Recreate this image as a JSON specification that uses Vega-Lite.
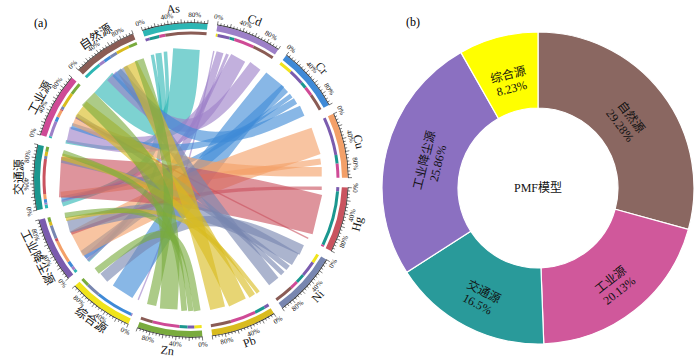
{
  "$schema": "https://vega.github.io/schema/vega-lite/v6.json",
  "padding": 0,
  "spacing": -3,
  "background": "white",
  "config": {
    "view": {"stroke": null},
    "font": "Liberation Serif, Noto Sans CJK SC",
    "title": {"fontWeight": "normal", "font": "Liberation Serif, Noto Sans CJK SC", "fontSize": 12, "color": "black"}
  },
  "datasets": {
    "nodes": [
      {"node": "As", "idx": 0}, {"node": "Cd", "idx": 1}, {"node": "Cr", "idx": 2},
      {"node": "Cu", "idx": 3}, {"node": "Hg", "idx": 4}, {"node": "Ni", "idx": 5},
      {"node": "Pb", "idx": 6}, {"node": "Zn", "idx": 7}, {"node": "综合源", "idx": 8},
      {"node": "工业降尘源", "idx": 9}, {"node": "交通源", "idx": 10}, {"node": "工业源", "idx": 11},
      {"node": "自然源", "idx": 12}
    ],
    "links": [
      {"el": "As", "src": "工业降尘源", "pe": 7, "ps": 5},
      {"el": "As", "src": "交通源", "pe": 16, "ps": 6},
      {"el": "As", "src": "工业源", "pe": 10, "ps": 3},
      {"el": "As", "src": "自然源", "pe": 67, "ps": 30},
      {"el": "Cd", "src": "综合源", "pe": 3, "ps": 2},
      {"el": "Cd", "src": "工业降尘源", "pe": 20, "ps": 6},
      {"el": "Cd", "src": "交通源", "pe": 8, "ps": 3},
      {"el": "Cd", "src": "工业源", "pe": 33, "ps": 25},
      {"el": "Cd", "src": "自然源", "pe": 36, "ps": 10},
      {"el": "Cr", "src": "综合源", "pe": 22, "ps": 62},
      {"el": "Cr", "src": "工业降尘源", "pe": 25, "ps": 10},
      {"el": "Cr", "src": "交通源", "pe": 10, "ps": 6},
      {"el": "Cr", "src": "工业源", "pe": 15, "ps": 8},
      {"el": "Cr", "src": "自然源", "pe": 28, "ps": 12},
      {"el": "Cu", "src": "工业降尘源", "pe": 63, "ps": 38},
      {"el": "Cu", "src": "交通源", "pe": 14, "ps": 8},
      {"el": "Cu", "src": "工业源", "pe": 23, "ps": 12},
      {"el": "Hg", "src": "工业降尘源", "pe": 7, "ps": 5},
      {"el": "Hg", "src": "交通源", "pe": 90, "ps": 57},
      {"el": "Hg", "src": "工业源", "pe": 3, "ps": 2},
      {"el": "Ni", "src": "综合源", "pe": 15, "ps": 23},
      {"el": "Ni", "src": "工业降尘源", "pe": 26, "ps": 22},
      {"el": "Ni", "src": "交通源", "pe": 15, "ps": 5},
      {"el": "Ni", "src": "工业源", "pe": 13, "ps": 5},
      {"el": "Ni", "src": "自然源", "pe": 31, "ps": 12},
      {"el": "Pb", "src": "工业降尘源", "pe": 8, "ps": 6},
      {"el": "Pb", "src": "交通源", "pe": 17, "ps": 7},
      {"el": "Pb", "src": "工业源", "pe": 42, "ps": 25},
      {"el": "Pb", "src": "自然源", "pe": 33, "ps": 22},
      {"el": "Zn", "src": "综合源", "pe": 12, "ps": 13},
      {"el": "Zn", "src": "工业降尘源", "pe": 11, "ps": 8},
      {"el": "Zn", "src": "交通源", "pe": 13, "ps": 8},
      {"el": "Zn", "src": "工业源", "pe": 44, "ps": 20},
      {"el": "Zn", "src": "自然源", "pe": 20, "ps": 14}
    ],
    "pmf": [
      {"src": "自然源", "v": 29.28},
      {"src": "工业源", "v": 20.13},
      {"src": "交通源", "v": 16.5},
      {"src": "工业降尘源", "v": 25.86},
      {"src": "综合源", "v": 8.23}
    ]
  },
  "resolve": {"scale": {"color": "independent", "theta": "independent", "x": "independent", "y": "independent"}},
  "hconcat": [
    {
      "width": 382,
      "height": 300,
      "title": {"text": "(a)", "anchor": "start", "frame": "group", "offset": -28, "dx": 34},
      "layer": [
        {
          "data": {"name": "nodes"},
          "transform": [
            {"calculate": "datum.idx*115", "as": "u0"},
            {"calculate": "datum.idx*115+100", "as": "u1"},
            {"calculate": "datum.idx*115+50", "as": "um"}
          ],
          "layer": [
            {
              "mark": {"type": "arc", "innerRadius": 151, "outerRadius": 157},
              "encoding": {
                "theta": {"field": "u0", "type": "quantitative", "stack": null, "scale": {"domain": [0, 1495], "range": [-0.31416, 5.96903]}},
                "theta2": {"field": "u1"},
                "color": {"field": "node", "type": "nominal", "legend": null,
                  "scale": {"domain": ["As","Cd","Cr","Cu","Hg","Ni","Pb","Zn","综合源","工业降尘源","交通源","工业源","自然源"],
                            "range": ["#2db6b4","#9d80c8","#3f8ad7","#f3a068","#c9535f","#7886b0","#d9bb1e","#79ab3d","#f0e41c","#7b5cae","#1b978f","#cf4a96","#8a5c55"]}}
              }
            },
            {
              "mark": {"type": "arc", "innerRadius": 157, "outerRadius": 157.7, "color": "#222222"},
              "encoding": {
                "theta": {"field": "u0", "type": "quantitative", "stack": null, "scale": {"domain": [0, 1495], "range": [-0.31416, 5.96903]}},
                "theta2": {"field": "u1"}
              }
            },
            {
              "transform": [
                {"calculate": "[0,5,10,15,20,25,30,35,40,45,50,55,60,65,70,75,80,85,90,95,100]", "as": "t"},
                {"flatten": ["t"]},
                {"calculate": "-0.31416+(datum.u0+datum.t)*2*PI/1495", "as": "a"},
                {"calculate": "157*sin(datum.a)", "as": "xa"},
                {"calculate": "157*cos(datum.a)", "as": "ya"},
                {"calculate": "(datum.t%20==0?161:159.5)*sin(datum.a)", "as": "xb"},
                {"calculate": "(datum.t%20==0?161:159.5)*cos(datum.a)", "as": "yb"}
              ],
              "mark": {"type": "rule", "color": "#222222", "strokeWidth": 0.6},
              "encoding": {
                "x": {"field": "xa", "type": "quantitative", "axis": null, "scale": {"domain": [-191, 191], "nice": false, "zero": false}},
                "y": {"field": "ya", "type": "quantitative", "axis": null, "scale": {"domain": [-150, 150], "nice": false, "zero": false}},
                "x2": {"field": "xb"},
                "y2": {"field": "yb"}
              }
            },
            {
              "transform": [
                {"calculate": "[0,40,80]", "as": "p"},
                {"flatten": ["p"]},
                {"calculate": "-0.31416+(datum.u0+datum.p)*2*PI/1495", "as": "a"},
                {"calculate": "165*sin(datum.a)", "as": "x"},
                {"calculate": "165*cos(datum.a)", "as": "y"},
                {"calculate": "((datum.a*180/PI)%360+360)%360", "as": "deg"},
                {"calculate": "datum.deg>90&&datum.deg<270?datum.deg-180:datum.deg", "as": "rot"},
                {"calculate": "datum.p+'%'", "as": "lab"}
              ],
              "mark": {"type": "text", "fontSize": 7, "align": "center", "baseline": "middle", "font": "Liberation Serif", "color": "#111111"},
              "encoding": {
                "x": {"field": "x", "type": "quantitative", "axis": null, "scale": {"domain": [-191, 191], "nice": false, "zero": false}},
                "y": {"field": "y", "type": "quantitative", "axis": null, "scale": {"domain": [-150, 150], "nice": false, "zero": false}},
                "text": {"field": "lab", "type": "nominal"},
                "angle": {"field": "rot", "type": "quantitative", "scale": null}
              }
            },
            {
              "transform": [
                {"calculate": "-0.31416+datum.um*2*PI/1495", "as": "a"},
                {"calculate": "172*sin(datum.a)", "as": "x"},
                {"calculate": "172*cos(datum.a)", "as": "y"},
                {"calculate": "((datum.a*180/PI)%360+360)%360", "as": "deg"},
                {"calculate": "datum.deg>90&&datum.deg<270?datum.deg-180:datum.deg", "as": "rot"}
              ],
              "mark": {"type": "text", "fontSize": 12, "align": "center", "baseline": "middle", "font": "Liberation Serif, Noto Sans CJK SC", "color": "#111111"},
              "encoding": {
                "x": {"field": "x", "type": "quantitative", "axis": null, "scale": {"domain": [-191, 191], "nice": false, "zero": false}},
                "y": {"field": "y", "type": "quantitative", "axis": null, "scale": {"domain": [-150, 150], "nice": false, "zero": false}},
                "text": {"field": "node", "type": "nominal"},
                "angle": {"field": "rot", "type": "quantitative", "scale": null}
              }
            }
          ]
        },
        {
          "data": {"name": "links"},
          "transform": [
            {"lookup": "el", "from": {"data": {"name": "nodes"}, "key": "node", "fields": ["idx"]}, "as": ["ei"]},
            {"lookup": "src", "from": {"data": {"name": "nodes"}, "key": "node", "fields": ["idx"]}, "as": ["si"]},
            {"window": [{"op": "sum", "field": "pe", "as": "ce"}], "groupby": ["el"], "sort": [{"field": "si", "order": "ascending"}], "frame": [null, 0]},
            {"window": [{"op": "sum", "field": "ps", "as": "cs"}], "groupby": ["src"], "sort": [{"field": "ei", "order": "ascending"}], "frame": [null, 0]},
            {"calculate": "datum.ei*115+datum.ce-datum.pe", "as": "e0"},
            {"calculate": "datum.ei*115+datum.ce", "as": "e1"},
            {"calculate": "datum.si*115+datum.cs-datum.ps", "as": "s0"},
            {"calculate": "datum.si*115+datum.cs", "as": "s1"}
          ],
          "layer": [
            {
              "mark": {"type": "arc", "innerRadius": 145.5, "outerRadius": 148.5},
              "encoding": {
                "theta": {"field": "e0", "type": "quantitative", "stack": null, "scale": {"domain": [0, 1495], "range": [-0.31416, 5.96903]}},
                "theta2": {"field": "e1"},
                "color": {"field": "src", "type": "nominal", "legend": null,
                  "scale": {"domain": ["As","Cd","Cr","Cu","Hg","Ni","Pb","Zn","综合源","工业降尘源","交通源","工业源","自然源"],
                            "range": ["#2db6b4","#9d80c8","#3f8ad7","#f3a068","#c9535f","#7886b0","#d9bb1e","#79ab3d","#f0e41c","#7b5cae","#1b978f","#cf4a96","#8a5c55"]}}
              }
            },
            {
              "mark": {"type": "arc", "innerRadius": 145.5, "outerRadius": 148.5},
              "encoding": {
                "theta": {"field": "s0", "type": "quantitative", "stack": null, "scale": {"domain": [0, 1495], "range": [-0.31416, 5.96903]}},
                "theta2": {"field": "s1"},
                "color": {"field": "el", "type": "nominal", "legend": null}
              }
            },
            {
              "transform": [
                {"calculate": "(datum.e0+datum.e1)/2", "as": "p0"},
                {"calculate": "0", "as": "p1"},
                {"calculate": "(datum.s0+datum.s1)/2", "as": "p2"},
                {"fold": ["p0", "p1", "p2"], "as": ["pt", "u"]},
                {"calculate": "datum.pt=='p1'?0:131", "as": "r"},
                {"calculate": "-0.31416+datum.u*2*PI/1495", "as": "a"},
                {"calculate": "datum.r*sin(datum.a)", "as": "x"},
                {"calculate": "datum.r*cos(datum.a)", "as": "y"},
                {"calculate": "(datum.pe+datum.ps)/2", "as": "w"}
              ],
              "mark": {"type": "line", "interpolate": "bundle", "tension": 0.75, "opacity": 0.62, "strokeCap": "butt", "strokeJoin": "round", "clip": true},
              "encoding": {
                "x": {"field": "x", "type": "quantitative", "axis": null, "scale": {"domain": [-191, 191], "nice": false, "zero": false}},
                "y": {"field": "y", "type": "quantitative", "axis": null, "scale": {"domain": [-150, 150], "nice": false, "zero": false}},
                "color": {"field": "el", "type": "nominal", "legend": null},
                "detail": {"field": "src", "type": "nominal"},
                "order": {"field": "pt", "type": "nominal"},
                "size": {"field": "w", "type": "quantitative", "legend": null, "scale": {"domain": [0, 100], "range": [0, 55]}}
              }
            }
          ]
        }
      ]
    },
    {
      "width": 308,
      "height": 316,
      "title": {"text": [" ", "(b)"], "anchor": "start", "frame": "group", "offset": 1, "dx": 22, "lineHeight": 15},
      "layer": [
        {
          "data": {"name": "pmf"},
          "transform": [
            {"window": [{"op": "row_number", "as": "rn"}]},
            {"window": [{"op": "sum", "field": "v", "as": "cum"}], "sort": [{"field": "rn"}], "frame": [null, 0]},
            {"calculate": "datum.cum-datum.v", "as": "c0"},
            {"calculate": "datum.cum-datum.v/2", "as": "mid"},
            {"calculate": "datum.mid*3.6", "as": "deg"},
            {"calculate": "datum.deg>90&&datum.deg<270?datum.deg-180:datum.deg", "as": "rot"},
            {"calculate": "datum.src+'\\n'+datum.v+'%'", "as": "lab"}
          ],
          "layer": [
            {
              "mark": {"type": "arc", "innerRadius": 80, "outerRadius": 156, "stroke": "white", "strokeWidth": 1.2},
              "encoding": {
                "theta": {"field": "c0", "type": "quantitative", "stack": null, "scale": {"domain": [0, 100], "range": [0, 6.28319]}},
                "theta2": {"field": "cum"},
                "color": {"field": "src", "type": "nominal", "legend": null,
                  "scale": {"domain": ["自然源","工业源","交通源","工业降尘源","综合源"],
                            "range": ["#8a6761","#d0589b","#299a9a","#8b70c1","#ffff00"]}}
              }
            },
            {
              "mark": {"type": "text", "radius": 117, "fontSize": 12, "lineBreak": "\n", "align": "center", "baseline": "middle", "font": "Liberation Serif, Noto Sans CJK SC", "color": "#111111"},
              "encoding": {
                "theta": {"field": "mid", "type": "quantitative", "stack": null, "scale": {"domain": [0, 100], "range": [0, 6.28319]}},
                "text": {"field": "lab", "type": "nominal"},
                "angle": {"field": "rot", "type": "quantitative", "scale": null}
              }
            }
          ]
        },
        {
          "data": {"values": [{"t": "PMF模型"}]},
          "mark": {"type": "text", "fontSize": 12, "align": "center", "baseline": "middle", "font": "Liberation Serif, Noto Sans CJK SC", "color": "#111111"},
          "encoding": {"text": {"field": "t", "type": "nominal"}}
        }
      ]
    }
  ]
}
